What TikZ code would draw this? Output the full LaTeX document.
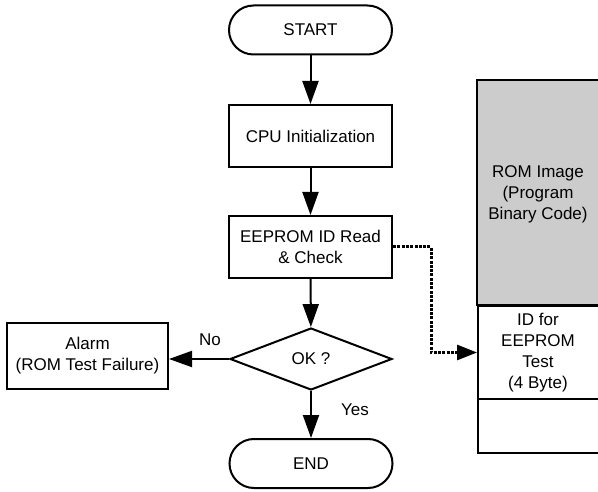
\documentclass[tikz,border=0pt]{standalone}
\usepackage{fontspec}
\setmainfont{Liberation Sans}
\usetikzlibrary{arrows.meta,shapes.geometric,calc}
\begin{document}
\begin{tikzpicture}[x=1pt,y=-1pt,
  every node/.style={font=\fontsize{17}{21}\selectfont, align=center, inner sep=0pt},
  box/.style={draw, line width=2pt, minimum width=163pt},
  term/.style={draw, line width=2pt, rounded corners=24.5pt, minimum width=163pt, minimum height=49pt},
  dia/.style={draw, line width=2pt, diamond, minimum width=162pt, minimum height=62pt},
  arr/.style={line width=2pt, -{Triangle[length=23pt,width=16pt]}},
  dotline/.style={line width=3pt, dash pattern=on 3pt off 1.3pt, -{Triangle[length=20pt,width=15pt]}},
  mem/.style={draw, line width=2pt}]
\useasboundingbox (0,0) rectangle (598,492);
% flowchart
\node[term] (start) at (310.5,30) {START};
\node[box, minimum height=62pt] (cpu) at (310.5,136) {CPU Initialization};
\node[box, minimum height=62pt] (eeprom) at (310.5,247) {EEPROM ID Read\\\& Check};
\node[dia] (ok) at (311,359) {OK ?};
\node[box, minimum width=161pt, minimum height=66pt] (alarm) at (87.5,356) {Alarm\\(ROM Test Failure)};
\node[term] (end) at (311,463.5) {END};
\node (no) at (210,340) {No};
\node (yes) at (355,410) {Yes};
% memory map
\path[mem, fill={rgb,255:red,204;green,204;blue,204}] (477,80) rectangle (600,305);
\node (rom) at (538,194) {ROM Image\\(Program\\Binary Code)};
\node[mem, minimum width=123pt, minimum height=93pt, anchor=north west] (idbox) at (477,305) {};
\node at (538,353) {ID for\\EEPROM\\Test\\(4 Byte)};
\node[mem, minimum width=123pt, minimum height=54pt, anchor=north west] (spare) at (477,398) {};
% connectors
\draw[arr] (start) -- (cpu);
\draw[arr] (cpu) -- (eeprom);
\draw[arr] (eeprom) -- (ok);
\draw[arr] (ok) -- (end);
\draw[arr] (ok.west) -- (alarm.east |- ok.west);
\coordinate (bend) at (431,247);
\draw[dotline] (eeprom.east) -- (bend) |- (idbox.west);
\end{tikzpicture}
\end{document}
